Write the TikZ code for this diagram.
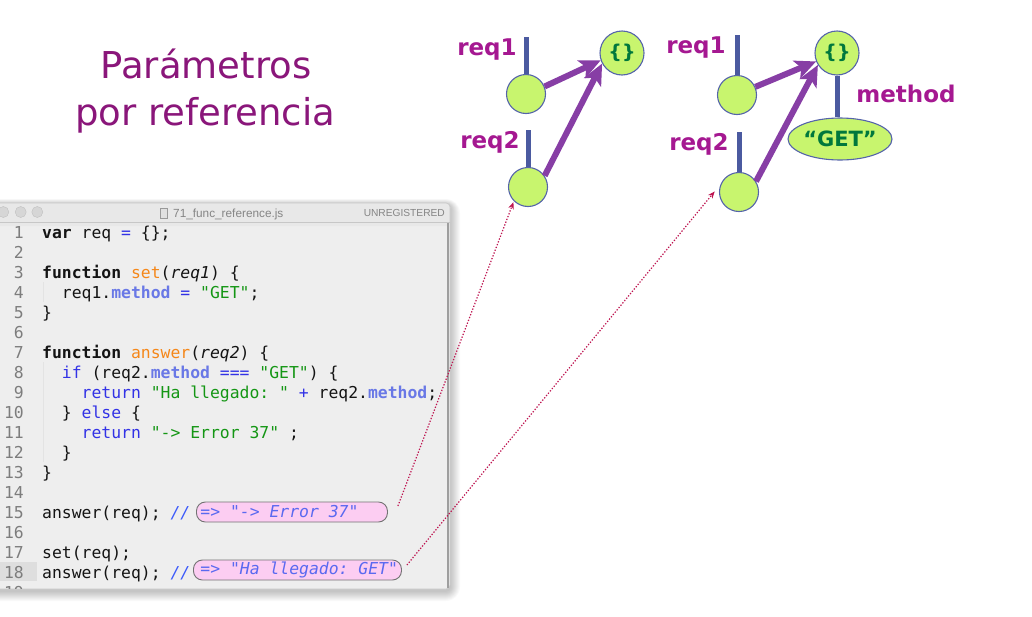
\documentclass[tikz,border=0pt]{standalone}
\usepackage{fontspec}
\setmainfont{DejaVu Sans}
\setmonofont{DejaVu Sans Mono}
\newfontfamily\uifont{Liberation Sans}
\usetikzlibrary{arrows.meta,calc,shapes.geometric}

% palette
\definecolor{titlepurple}{RGB}{138,22,122}
\definecolor{labelpurple}{RGB}{165,24,145}
\definecolor{barblue}{RGB}{75,90,160}
\definecolor{nodegreen}{RGB}{200,245,110}
\definecolor{nodeedge}{RGB}{85,100,170}
\definecolor{arrowpurple}{RGB}{135,62,165}
\definecolor{objgreen}{RGB}{0,120,60}
\definecolor{linkred}{RGB}{190,20,80}
\definecolor{kwblue}{RGB}{50,50,230}
\definecolor{propblue}{RGB}{105,120,230}
\definecolor{strgreen}{RGB}{20,150,20}
\definecolor{fnorange}{RGB}{245,135,25}
\definecolor{cmtblue}{RGB}{60,90,250}
\definecolor{boxtext}{RGB}{90,105,240}
\definecolor{boxpink}{RGB}{252,205,242}
\definecolor{editorbg}{RGB}{238,238,238}
\definecolor{titlebarbg}{RGB}{232,232,232}
\definecolor{gutternum}{RGB}{125,125,125}

% syntax highlighting helpers
\newcommand\ckw[1]{\textbf{#1}}
\newcommand\cfn[1]{\textcolor{fnorange}{#1}}
\newcommand\cpar[1]{\textit{#1}}
\newcommand\cop[1]{\textcolor{kwblue}{#1}}
\newcommand\cprop[1]{\textcolor{propblue}{\textbf{#1}}}
\newcommand\cstr[1]{\textcolor{strgreen}{#1}}
\newcommand\ccmt[1]{\textcolor{cmtblue}{\textit{#1}}}

\begin{document}
\begin{tikzpicture}[x=1pt,y=-1pt,
  codeline/.style={anchor=base west,inner sep=0pt,text=black!92,
    font=\ttfamily\fontsize{16.4}{20}\selectfont},
  lineno/.style={anchor=base east,inner sep=0pt,text=gutternum,
    font=\ttfamily\fontsize{16.4}{20}\selectfont},
  cbox/.style={draw=black!55,fill=boxpink,line width=0.9pt,rounded corners=9pt,
    anchor=west,minimum height=20pt,inner ysep=0pt,text=boxtext,
    font=\ttfamily\itshape\fontsize{16.4}{20}\selectfont},
  lbl/.style={anchor=base,inner sep=0pt,text=labelpurple,
    font=\bfseries\fontsize{23}{23}\selectfont},
  ball/.style={circle,draw=nodeedge,fill=nodegreen,line width=1.1pt,
    minimum size=39pt,inner sep=0pt},
  objball/.style={ball,minimum size=44pt,text=objgreen,
    font=\bfseries\fontsize{19}{19}\selectfont},
  bar/.style={draw=barblue,line width=5pt},
  refarrow/.style={draw=arrowpurple,line width=6pt,
    -{Stealth[length=21pt,width=19pt,inset=5pt]}},
  reflink/.style={draw=linkred,line width=1.2pt,dash pattern=on 1.3pt off 1.7pt,
    -{Stealth[length=7pt,width=5.5pt]}},
  uitext/.style={inner sep=0pt,text=black!48,font=\uifont\fontsize{11.8}{12}\selectfont}
]
\useasboundingbox (0,0) rectangle (1032,616);
\fill[white] (0,0) rectangle (1032,616);

% heading
\node[anchor=base,inner sep=0pt,text=titlepurple,font=\fontsize{37}{37}\selectfont]
  (t1) at (206,78) {Parámetros};
\node[anchor=base,inner sep=0pt,text=titlepurple,font=\fontsize{37}{37}\selectfont]
  (t2) at (205,125) {por referencia};

% soft window shadow, layered
\foreach \k in {1,...,10}
  \fill[black,opacity=0.022,rounded corners={4pt+\k pt}]
    ({-20-\k},{205-0.6*\k}) rectangle ({450+\k},{591+\k});

% editor window
\fill[editorbg,rounded corners=4pt] (-20,203) rectangle (450,589);
\fill[titlebarbg,rounded corners=4pt] (-20,203) rectangle (450,226);
\fill[titlebarbg] (-20,214) rectangle (450,222);
\draw[black!22,line width=0.8pt] (-20,222) -- (450,222);
\draw[black!22,line width=0.6pt,rounded corners=4pt] (-20,203) -- (450,203) -- (450,589) -- (-20,589);
\draw[black!38,line width=2.2pt] (447.6,223) -- (447.6,588);

% title bar content
\foreach \i/\xx in {1/3.3,2/20.7,3/37.3}
  \node[circle,draw=black!25,fill=black!16,minimum size=11pt,inner sep=0pt] (tl\i) at (\xx,212) {};
\node[draw=black!40,fill=black!12,minimum width=7pt,minimum height=10pt,inner sep=0pt,line width=0.6pt]
  (docicon) at (164,213) {};
\node[uitext,anchor=base west] (fname) at (173,217) {71\_func\_reference.js};
\node[uitext,anchor=base east,font=\uifont\fontsize{10.2}{12}\selectfont] (unreg) at (445,216.5) {UNREGISTERED};

% gutter and indent guides
\fill[black!13] (-20,562) rectangle (37,581);
\draw[black!11,line width=0.8pt] (43,282) -- (43,302);
\draw[black!11,line width=0.8pt] (43,362) -- (43,462);

\begin{scope}
\clip (-20,222) rectangle (446,588);
\foreach \n in {1,...,19}
  \node[lineno] (n\n) at (24,{238+(\n-1)*20}) {\n};
\end{scope}

% source lines
\node[codeline] (l1)  at (42,238) {\ckw{var} req \cop{=} \{\};};
\node[codeline] (l3)  at (42,278) {\ckw{function} \cfn{set}(\cpar{req1}) \{};
\node[codeline] (l4)  at (61.74,298) {req1.\cprop{method} \cop{=} \cstr{"GET"};};
\node[codeline] (l5)  at (42,318) {\}};
\node[codeline] (l7)  at (42,358) {\ckw{function} \cfn{answer}(\cpar{req2}) \{};
\node[codeline] (l8)  at (61.74,378) {\cop{if} (req2.\cprop{method} \cop{===} \cstr{"GET"}) \{};
\node[codeline] (l9)  at (81.48,398) {\cop{return} \cstr{"Ha llegado: "} \cop{+} req2.\cprop{method};};
\node[codeline] (l10) at (61.74,418) {\} \cop{else} \{};
\node[codeline] (l11) at (81.48,438) {\cop{return} \cstr{"-> Error 37"} ;};
\node[codeline] (l12) at (61.74,458) {\}};
\node[codeline] (l13) at (42,478) {\}};
\node[codeline] (l15) at (42,518) {answer(req); \ccmt{//}};
\node[codeline] (l17) at (42,558) {set(req);};
\node[codeline] (l18) at (42,578) {answer(req); \ccmt{//}};

% evaluated results
\node[cbox,inner xsep=4pt] (c15) at (196,512) {\makebox[183pt][l]{=> "-> Error 37"}};
\node[cbox,inner xsep=3.5pt] (c18) at (193,570) {\makebox[201pt][l]{\hspace*{3.5pt}=> "Ha llegado: GET"}};

% memory diagram before set(req)
\node[objball] (o1) at (622,53) {\{\}};
\node[ball] (a1) at (526,94) {};
\node[ball] (b1) at (528,187) {};
\coordinate (a1top) at (526,37);
\coordinate (b1top) at (528,130);
\draw[bar] (a1top) -- (a1.north);
\draw[bar] (b1top) -- (b1.north);
\node[lbl] (la1) at (487,55) {req1};
\node[lbl] (lb1) at (490,148) {req2};
\draw[refarrow] (a1.22) -- (o1.199);
\draw[refarrow] (b1.34) -- (o1.208);

% memory diagram after set(req)
\node[objball] (o2) at (837,53) {\{\}};
\node[ball] (a2) at (737,95) {};
\node[ball] (b2) at (739,192) {};
\node[ellipse,draw=nodeedge,fill=nodegreen,line width=1.1pt,minimum width=98pt,
  minimum height=42pt,inner sep=0pt,text=objgreen,font=\bfseries\fontsize{21}{21}\selectfont]
  (get) at (840,139) {“GET”};
\coordinate (a2top) at (737,35);
\coordinate (b2top) at (739,132);
\draw[bar] (a2top) -- (a2.north);
\draw[bar] (b2top) -- (b2.north);
\draw[bar] (o2.south) -- (o2.south |- get.north);
\node[lbl] (la2) at (696,53) {req1};
\node[lbl] (lb2) at (699,150) {req2};
\node[lbl] (lm2) at (906,102) {method};
\draw[refarrow] (a2.24) -- (o2.202);
\draw[refarrow] (b2.32) -- (o2.212);

% links from results to the diagrams
\coordinate (s1) at ($(c15.east)+(10,-6)$);
\coordinate (s2) at ($(c18.east)+(5,-5)$);
\draw[reflink,shorten >=1pt] (s1) -- (b1.225);
\draw[reflink,shorten >=9pt] (s2) -- (b2.158);
\end{tikzpicture}
\end{document}
